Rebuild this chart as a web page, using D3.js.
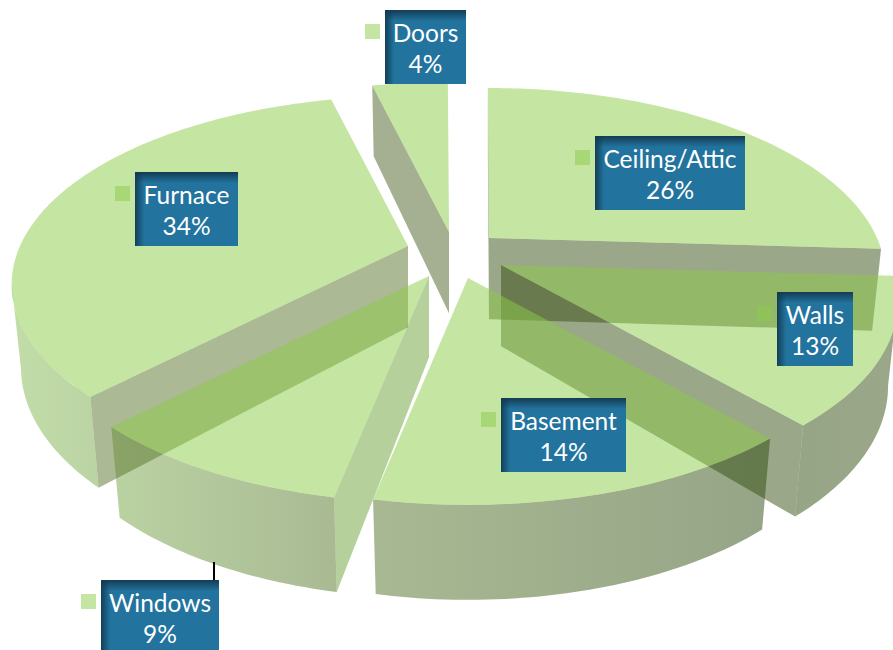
<!DOCTYPE html>
<html>
<head>
<meta charset="utf-8">
<script src="https://cdn.jsdelivr.net/npm/d3@7/dist/d3.min.js"></script>
<style>
  html, body { margin: 0; padding: 0; background: #fff; overflow: hidden; }
  svg { display: block; }
  text { font-family: Lato, "Noto Sans", sans-serif; }
</style>
</head>
<body>
<svg id="chart" width="893" height="650"></svg>
<script>
// Heat-loss shares, clockwise from twelve o'clock
const categories = ["Ceiling/Attic", "Walls", "Basement", "Windows", "Furnace", "Doors"];
const shares = [26, 13, 14, 9, 34, 4];

// Layout of the exploded pie
const width = 893, height = 650;
const pieCentre = [450, 252];
const explodeX = [39, 51, 18, -21, -42, -1];
const explodeY = [-14, 13, 26, 24, -6, -20];

// Perspective camera: far edge shrinks, extruded base shrinks slightly,
// and the off-axis view twists angles a little away from the axes
const camera = {
  rx: 388, ry: 180.6, far: 0.204, depth: 83, baseShrink: 0.023,
  yaw: -0.2 * Math.PI / 180, twist: 3.8 * Math.PI / 180
};

// Callout boxes: left, top, width, height (the Windows box runs off the page)
const boxLeft = [595, 777, 501, 101, 135, 385];
const boxTop = [136, 292, 398, 580, 172, 10];
const boxWidth = [150, 76, 125, 118, 103, 81];
const boxHeight = 74;

// Cut-face tints, painted at half opacity
const cutTint = ["rgb(55,79,19)", "rgb(55,79,19)", "rgb(55,79,19)", "rgb(109,161,55)", "rgb(89,115,43)", "rgb(75,95,35)"];
const topTint = "rgb(139,203,72)";

const svg = d3.select("#chart");
const defs = svg.append("defs");

// Outer walls get darker from left to right
const wallGrad = defs.append("linearGradient")
  .attr("id", "wallShade").attr("gradientUnits", "userSpaceOnUse")
  .attr("x1", 0).attr("x2", width).attr("y1", 0).attr("y2", 0);
[[0, "rgb(135,189,85)"], [0.37, "rgb(85,119,41)"], [0.86, "rgb(45,75,15)"], [1, "rgb(55,79,19)"]]
  .forEach(([o, c]) => wallGrad.append("stop").attr("offset", o).attr("stop-color", c));

// Inner shadow along the top and left edges of the callouts
const edgeTop = defs.append("linearGradient").attr("id", "edgeTop").attr("x1", 0).attr("x2", 0).attr("y1", 0).attr("y2", 1);
edgeTop.append("stop").attr("offset", 0).attr("stop-color", "#12394f").attr("stop-opacity", 0.95);
edgeTop.append("stop").attr("offset", 1).attr("stop-color", "#12394f").attr("stop-opacity", 0);
const edgeLeft = defs.append("linearGradient").attr("id", "edgeLeft").attr("x1", 0).attr("x2", 1).attr("y1", 0).attr("y2", 0);
edgeLeft.append("stop").attr("offset", 0).attr("stop-color", "#12394f").attr("stop-opacity", 0.9);
edgeLeft.append("stop").attr("offset", 1).attr("stop-color", "#12394f").attr("stop-opacity", 0);

// Project a point of the unit disc (z = 0 top face, z = 1 base) relative to a slice apex
function project(a, r, z) {
  const c = Math.cos(a);
  const view = a + camera.yaw - camera.twist * Math.sin(a) * c * c;
  const X = r * Math.sin(view), Y = r * Math.cos(view);
  const w = 1 + camera.far * Y + camera.baseShrink * z;
  return [camera.rx * X / w, (-camera.ry * Y + camera.depth * z) / w];
}

const pie = d3.pie().sort(null).value(d => d);
const arcs = pie(shares);
const line = d3.line();
const closed = pts => line(pts) + "Z";

const arcStep = Math.PI / 180;
const sampleArc = (a0, a1) => {
  const n = Math.max(2, Math.ceil((a1 - a0) / arcStep));
  return d3.range(n + 1).map(i => a0 + (a1 - a0) * i / n);
};

const slices = arcs.map((d, i) => ({
  name: categories[i],
  value: d.value,
  a0: d.startAngle,
  a1: d.endAngle,
  tint: cutTint[i],
  apex: [pieCentre[0] + explodeX[i], pieCentre[1] + explodeY[i]]
}));

const place = (s, p) => [s.apex[0] + p[0], s.apex[1] + p[1]];

// Signed area of a face, used to keep only the cut faces turned towards the viewer
const cutFace = (s, a) => [
  project(a, 0, 0), project(a, 1, 0), project(a, 1, 1), project(a, 0, 1)
].map(p => place(s, p));

const sides = svg.append("g").attr("class", "sides");
const tops = svg.append("g").attr("class", "tops");

// Angles where the outer rim is on the near side of the silhouette
const rimFrom = Math.acos(-camera.far);
const rimTo = 2 * Math.PI - rimFrom;

slices.forEach(s => {
  // Cut faces: the start edge shows when wound one way, the end edge the other
  const startFace = cutFace(s, s.a0), endFace = cutFace(s, s.a1);
  if (d3.polygonArea(startFace) > 0) {
    sides.append("path").attr("d", closed(startFace)).attr("fill", s.tint).attr("fill-opacity", 0.5);
  }
  if (d3.polygonArea(endFace) < 0 && s.a1 < 2 * Math.PI - 1e-6) {
    sides.append("path").attr("d", closed(endFace)).attr("fill", s.tint).attr("fill-opacity", 0.5);
  }

  // Outer rim
  const lo = Math.max(s.a0, rimFrom), hi = Math.min(s.a1, rimTo);
  if (hi > lo) {
    const angles = sampleArc(lo, hi);
    const upper = angles.map(a => place(s, project(a, 1, 0)));
    const lower = angles.slice().reverse().map(a => place(s, project(a, 1, 1)));
    sides.append("path").attr("d", closed(upper.concat(lower)))
      .attr("fill", "url(#wallShade)").attr("fill-opacity", 0.5);
  }

  // Top face
  const rim = sampleArc(s.a0, s.a1).map(a => place(s, project(a, 1, 0)));
  tops.append("path").attr("d", closed([s.apex].concat(rim)))
    .attr("fill", topTint).attr("fill-opacity", 0.5);
});

// Leader from the Windows slice down to its callout
const wi = categories.indexOf("Windows");
svg.append("line")
  .attr("x1", boxLeft[wi] + boxWidth[wi] - 5).attr("x2", boxLeft[wi] + boxWidth[wi] - 5)
  .attr("y1", boxTop[wi] - 18).attr("y2", boxTop[wi])
  .attr("stroke", "#000").attr("stroke-width", 2);

// Callouts
const labels = svg.append("g").attr("class", "labels");
slices.forEach((s, i) => {
  const x = boxLeft[i], y = boxTop[i], w = boxWidth[i];
  const g = labels.append("g").attr("transform", `translate(${x},${y})`);
  g.append("rect").attr("x", -20).attr("y", 14).attr("width", 15).attr("height", 15)
    .attr("fill", topTint).attr("fill-opacity", 0.5);
  g.append("rect").attr("width", w).attr("height", boxHeight).attr("fill", "#22739e");
  g.append("rect").attr("width", w).attr("height", 11).attr("fill", "url(#edgeTop)");
  g.append("rect").attr("width", 9).attr("height", boxHeight).attr("fill", "url(#edgeLeft)");
  g.append("text").attr("x", w / 2).attr("y", 32).attr("text-anchor", "middle")
    .attr("font-size", 24.5).attr("fill", "#fff").text(s.name);
  g.append("text").attr("x", w / 2).attr("y", 63).attr("text-anchor", "middle")
    .attr("font-size", 24.5).attr("fill", "#fff").text(s.value + "%");
});
</script>
</body>
</html>
